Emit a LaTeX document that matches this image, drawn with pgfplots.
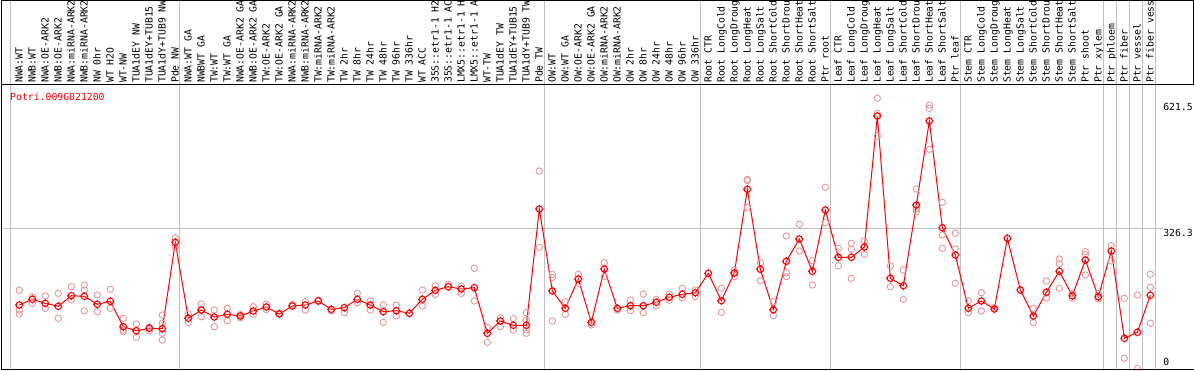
\documentclass[border=0pt]{standalone}
\usepackage{fontspec}
\usepackage{pgfplots}
\pgfplotsset{compat=1.18}
\newfontfamily\lmono{DejaVu Sans Mono}
\definecolor{rep}{RGB}{232,150,150}
\definecolor{gridg}{RGB}{192,192,192}
\pgfdeclareplotmark{tcirc}{%
 \pgfpathcircle{\pgfpointorigin}{\pgfplotmarksize}%
 \pgfpathmoveto{\pgfqpoint{0pt}{\pgfplotmarksize}}\pgfpathlineto{\pgfqpoint{0pt}{1.28\pgfplotmarksize}}%
 \pgfpathmoveto{\pgfqpoint{0pt}{-\pgfplotmarksize}}\pgfpathlineto{\pgfqpoint{0pt}{-1.28\pgfplotmarksize}}%
 \pgfpathmoveto{\pgfqpoint{\pgfplotmarksize}{0pt}}\pgfpathlineto{\pgfqpoint{1.28\pgfplotmarksize}{0pt}}%
 \pgfpathmoveto{\pgfqpoint{-\pgfplotmarksize}{0pt}}\pgfpathlineto{\pgfqpoint{-1.28\pgfplotmarksize}{0pt}}%
 \pgfusepathqstroke}
\begin{document}
\begin{tikzpicture}
\useasboundingbox (-1pt,-1pt) rectangle (1193pt,369pt);
\clip (-1pt,-1pt) rectangle (1193pt,369pt);
\begin{axis}[at={(0pt,0pt)}, anchor=south west, scale only axis,
  width=1193pt, height=284pt,
  xmin=-1.4077, xmax=90.362, ymin=-3.28, ymax=662,
  axis line style={draw=none}, ytick=\empty,
  xtick={0,...,87}, major tick length=0pt,
  xticklabel pos=upper, xticklabel shift=2pt,
  xticklabel style={rotate=90, anchor=west, inner sep=0pt, text height=6.5pt, text depth=0pt,
    font=\lmono\fontsize{9.8}{12}\selectfont},
  xticklabels={NWA:WT,NWB:WT,NWA:OE-ARK2,NWB:OE-ARK2,NWA:miRNA-ARK2,NWB:miRNA-ARK2,NW 0hr,WT H2O,WT-NW,TUA1dEY NW,TUA1dEY+TUB15 NW,TUA1dY+TUB9 NW,Pde NW,
  NWA:WT GA,NWBWT GA,TW:WT,TW:WT GA,NWA:OE-ARK2 GA,NWB:OE-ARK2 GA,TW:OE-ARK2,TW:OE-ARK2 GA,NWA:miRNA-ARK2,NWB:miRNA-ARK2,TW:miRNA-ARK2,TW:miRNA-ARK2,TW 2hr,TW 8hr,TW 24hr,TW 48hr,TW 96hr,TW 336hr,WT ACC,35S::etr1-1 H2O,35S::etr1-1 ACC,LMX5::etr1-1 H2O,LMX5::etr1-1 ACC,WT-TW,TUA1dEY TW,TUA1dEY+TUB15 TW,TUA1dY+TUB9 TW,Pde TW,
  OW:WT,OW:WT GA,OW:OE-ARK2,OW:OE-ARK2 GA,OW:miRNA-ARK2,OW:miRNA-ARK2,OW 2hr,OW 8hr,OW 24hr,OW 48hr,OW 96hr,OW 336hr,
  Root CTR,Root LongCold,Root LongDrought,Root LongHeat,Root LongSalt,Root ShortCold,Root ShortDrought,Root ShortHeat,Root ShortSalt,Ptr root,
  Leaf CTR,Leaf LongCold,Leaf LongDrought,Leaf LongHeat,Leaf LongSalt,Leaf ShortCold,Leaf ShortDrought,Leaf ShortHeat,Leaf ShortSalt,Ptr leaf,
  Stem CTR,Stem LongCold,Stem LongDrought,Stem LongHeat,Stem LongSalt,Stem ShortCold,Stem ShortDrought,Stem ShortHeat,Stem ShortSalt,Ptr shoot,Ptr xylem,
  Ptr phloem,Ptr fiber,Ptr vessel,Ptr fiber vessel},
  clip=false]
\pgfplotsinvokeforeach{-0.662,12.36,40.36,52.41,62.38,72.42,83.38,84.42,85.38,86.42,87.38}{
  \draw[gridg, line width=1pt] (axis cs:#1,-20) -- (axis cs:#1,900);}
\draw[gridg, line width=1pt] (axis cs:-1.41,326.3) -- (axis cs:87.98,326.3);
\addplot[only marks, mark=o, mark size=3.2pt, rep, mark options={line width=0.9pt}] coordinates {
(0,181) (0,135) (0,125.6) (1,166) (1,150.6) (2,167.7) (2,138.9) (3,174) (3,115.5)
(4,189.5) (4,158.4) (5,193.5) (5,181.8) (5,132.6) (6,170) (6,131) (7,183.4) (7,138.9)
(8,115.5) (8,84.1) (8,88) (9,102) (9,71) (10,95) (10,86) (11,123) (11,103.8) (11,80.3) (11,64.7)
(12,304.3) (12,283) (13,125.6) (13,106) (14,149) (14,119) (15,135) (15,95.8) (16,138.9) (16,110)
(17,124) (17,117) (18,142.7) (18,125) (19,148.3) (19,136) (20,128) (21,148.3) (22,154.4) (22,135)
(23,158) (24,133) (25,128.7) (26,174) (26,152) (27,156) (27,135) (28,146.6) (28,106) (29,146.6) (29,121)
(31,181.8) (31,144.3) (32,191.9) (32,171.7) (33,195) (34,191) (34,174) (35,232.6) (35,156)
(36,94.4) (36,59.3) (37,117) (37,95.8) (38,114.6) (38,88) (39,128.7) (39,111.5) (39,80.3) (39,88)
(40,460.6) (40,281.8) (41,218.6) (41,211.5) (41,109.2) (42,154.4) (42,124.8) (43,218.6) (43,197.5)
(44,100) (45,245.8) (45,213) (46,135) (47,158.4) (47,133.3) (48,172.4) (48,128.7) (49,160) (49,145)
(50,172.4) (50,158) (51,185.8) (51,163) (52,182) (52,166) (54,185.8) (54,129.5) (55,229) (55,213)
(56,441) (56,375.5) (56,438) (57,245.8) (57,203.6) (58,154.4) (58,121.6) (59,308.3) (59,222.3) (59,213)
(60,335.7) (60,273.1) (61,250.4) (61,193.5) (62,422.4) (62,339.4) (63,279.5) (63,238.7)
(64,291.2) (64,277) (64,209.2) (65,296.6) (65,265.4) (66,630.9) (66,595.7) (66,542.5)
(67,238) (67,189.5) (68,228.6) (68,160) (69,418.4) (69,365.2) (69,372) (70,615.2) (70,607.4) (70,511.4)
(71,387.2) (71,310.6) (71,279.5) (72,314.6) (72,277.8) (72,197.5) (73,156.7) (73,128.7) (74,175.5) (74,132.6)
(75,141) (78,138.9) (78,105.2) (79,202.9) (79,163) (80,254.4) (80,243) (80,185.8) (81,174) (81,163)
(82,271.5) (82,265) (82,216.9) (83,174) (83,161) (84,285.6) (84,249.7) (85,162.3) (85,21.8)
(86,170) (86,-2) (87,218.6) (87,188.1) (87,103.8)
};
\addplot[red, line width=1pt, mark=tcirc, mark size=3.2pt, mark options={line width=1.1pt}] table {
x y
0 146.6
1 160
2 150.6
3 143.6
4 168.4
5 167
6 148.3
7 155.3
8 95.8
9 86.4
10 92
11 91.1
12 293.5
13 115.5
14 135
15 118.5
16 124.8
17 120.9
18 132.6
19 142
20 125.6
21 144.3
22 146.6
23 156
24 136.5
25 140.4
26 160
27 146.6
28 131
29 133.3
30 127.2
31 160
32 181
33 189.5
34 184.1
35 187.2
36 80.3
37 109.2
38 99
39 99
40 371.5
41 179.4
42 138.9
43 207.5
44 106
45 231
46 138.9
47 145
48 145
49 153
50 164.7
51 171.7
52 175.5
53 220.9
54 156.7
55 221.6
56 417.7
57 230.3
58 135.6
59 249
60 301.3
61 225.6
62 369.2
63 258.4
64 258.4
65 282.5
66 589.4
67 209.2
68 191.9
69 380.9
70 577.7
71 327.7
72 263.8
73 138.9
74 156
75 137.3
76 302.9
77 181.8
78 120.9
79 176.4
80 225.6
81 168.4
82 252
83 166
84 273.1
85 68.6
86 82.7
87 169.4
};
\node[anchor=west, inner sep=0pt, text=red, font=\lmono\fontsize{9.8}{12}\selectfont] at (axis cs:-0.715,633.9) {Potri.009G021200};
\node[anchor=west, inner sep=0pt, font=\lmono\fontsize{9.8}{12}\selectfont] at (axis cs:87.98,610.5) {621.5};
\node[anchor=west, inner sep=0pt, font=\lmono\fontsize{9.8}{12}\selectfont] at (axis cs:87.98,316) {326.3};
\node[anchor=west, inner sep=0pt, font=\lmono\fontsize{9.8}{12}\selectfont] at (axis cs:87.98,13.8) {0};
\end{axis}
\draw[black, line width=1pt] (0.5pt,-1pt) -- (0.5pt,369pt);
\draw[black, line width=1pt] (0pt,0pt) -- (1193pt,0pt);
\draw[black, line width=1pt] (0pt,284pt) -- (1193pt,284pt);
\draw[black, line width=1pt] (0pt,368.5pt) -- (1193pt,368.5pt);
\draw[black, line width=1pt] (1192.5pt,284pt) -- (1192.5pt,369pt);
\end{tikzpicture}
\end{document}
